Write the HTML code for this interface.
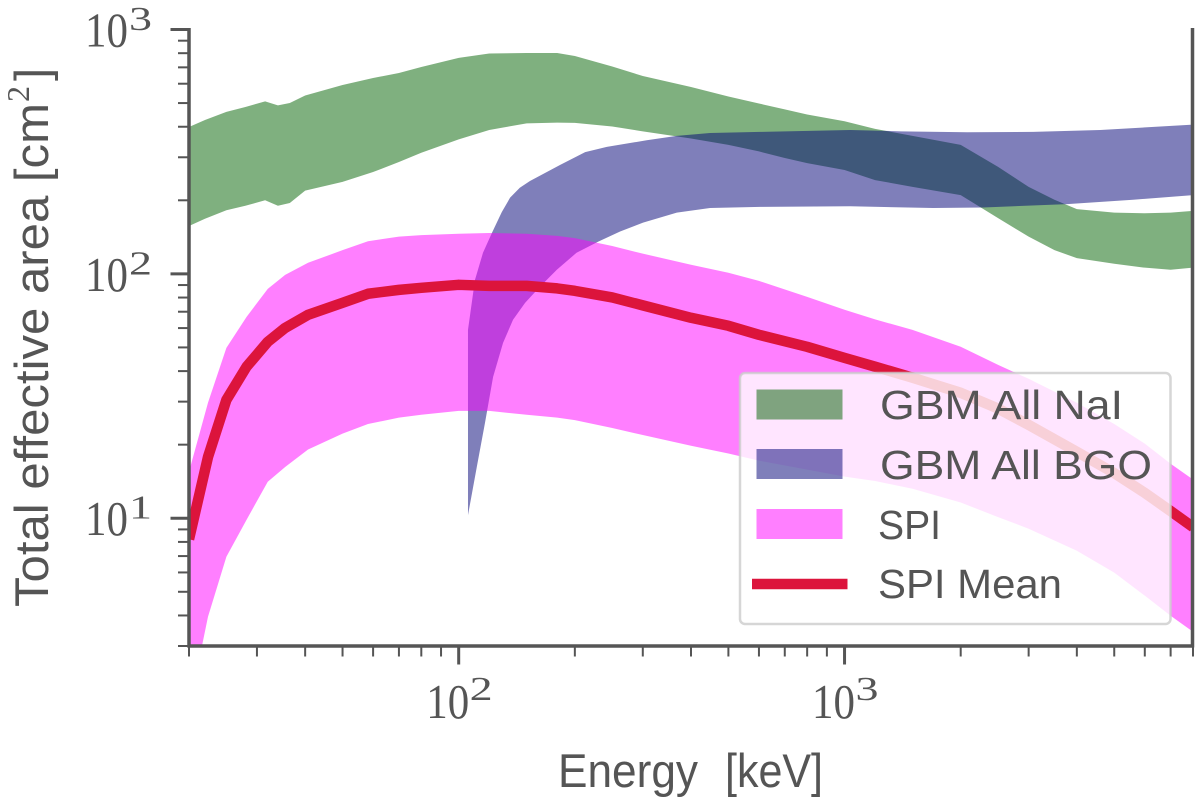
<!DOCTYPE html>
<html lang="en">
<head>
<meta charset="utf-8">
<title>Total effective area vs energy</title>
<style>
  html, body { margin: 0; padding: 0; background: #fff; }
  #chart { display: block; width: 1200px; height: 805px; }
  text { fill: #555; font-family: "Liberation Sans", sans-serif; }
  .serif { font-family: "Liberation Serif", serif; }
</style>
</head>
<body>
<svg id="chart" xmlns="http://www.w3.org/2000/svg" width="1200" height="805" viewBox="0 0 1200 805">
  <defs>
    <clipPath id="plot-clip"><rect x="189" y="29.5" width="1004" height="616.5"></rect></clipPath>
  </defs>
  <g id="series" clip-path="url(#plot-clip)"></g>
  <g id="axes"></g>

  <g id="legend">
    <rect x="740" y="373" width="430.5" height="251" rx="5" ry="5" fill="#fff" fill-opacity="0.8" stroke="#ccc" stroke-opacity="0.8" stroke-width="2.5"></rect>
    <rect x="756.5" y="389.5" width="86" height="30" fill="#006200" fill-opacity="0.5"></rect>
    <text x="880" y="419" font-size="41" textLength="243" lengthAdjust="spacingAndGlyphs">GBM All NaI</text>
    <rect x="756.5" y="449" width="86" height="30" fill="#000075" fill-opacity="0.5"></rect>
    <text x="880" y="479" font-size="41" textLength="272" lengthAdjust="spacingAndGlyphs">GBM All BGO</text>
    <rect x="756.5" y="509" width="86" height="30" fill="#ff00ff" fill-opacity="0.5"></rect>
    <text x="878" y="539" font-size="41" textLength="63" lengthAdjust="spacingAndGlyphs">SPI</text>
    <line x1="752" x2="847.5" y1="584" y2="584" stroke="#dc143c" stroke-width="10.5"></line>
    <text x="878" y="598" font-size="41" textLength="184" lengthAdjust="spacingAndGlyphs">SPI Mean</text>
  </g>

  <g>
    <text transform="translate(48,607) rotate(-90)" font-size="47" textLength="504" lengthAdjust="spacingAndGlyphs">Total effective area [cm</text>
    <text transform="translate(29,102) rotate(-90)" font-size="32" class="serif">2</text>
    <text transform="translate(48,81) rotate(-90)" font-size="47">]</text>
  </g>
  <g>
    <text x="558" y="787" font-size="47" textLength="140" lengthAdjust="spacingAndGlyphs">Energy</text>
    <text x="725" y="787" font-size="47" textLength="98" lengthAdjust="spacingAndGlyphs">[keV]</text>
  </g>
</svg>

<script>
// ---- Chart data (energy in keV, effective area in cm^2) ----
const naiEnergy = [20,22,25,28,31.5,34,36.5,40,50,60,70,80,100,120,150,180,200,250,300,400,500,600,700,800,1000,1200,1500,2000,2500,3000,3500,4000,5000,6000,7000,8000];
const naiUpper = [399,426,460,482,508,489,500,537,593,633,664,702,765,798,801,801,779,706,645,582,532,498,471,449,421,392,367,337,274,227,201,184,178,177,178,181];
const naiLower = [157,168,182,190,200,190,195,219,238,261,287,313,355,388,413,416,415,401,383,358,337,317,298,284,266,242,227,210,169,142,125,116,110,106,104,106];

const bgoUpperEnergy = [105.7,110.2,115.6,121.9,129.3,135.9,144,153,183,212.7,242,307,367.5,448,604,1034,1400,2080,3080,4600,8000];
const bgoUpper = [59,94.5,122,147,179,205,225,240,279,315,331,352,367,377,381,388,383,380,381,388,408];
const bgoLowerEnergy = [105.7,111.4,117,122.8,130.3,138.3,148.6,162.5,179.6,202,230,262,300.5,367.5,448,604,1034,1696,2287,3775,5596,8000];
const bgoLower = [10.3,16.2,24.6,37.9,52.2,64.9,76.1,88.7,104,122,135.5,149,162,178,186,188,189,186,187,193,201,210];

const spiEnergy = [20,22.4,25,28.2,32,35.5,40.7,50,58.2,70,80,100,120,150,180,200,250,300,400,500,600,800,1000,1200,1500,2000,2500,3000,4000,5000,6000,7000,8000];
const spiUpper = [15.5,29.7,49.8,66.7,86.8,99.1,111,125,136,142,144,146,147,146,143,140,130,121,109,101,93.6,80.5,71.3,65.1,59,50.3,42.4,37.2,29.7,24.3,20.2,16.7,14.4];
const spiLower = [1.66,3.95,6.96,9.86,14.1,16.2,19.1,22.2,24.3,25.8,26.5,27.5,27.5,26.5,25.8,25.2,23.4,21.9,19.8,18.4,17.2,15.8,14.8,14.2,13.2,11.6,10.1,9.06,7.36,5.99,4.82,3.99,3.43];
const spiMean = [8.2,17.8,30.5,41.7,52.7,60.1,68,76.1,82.9,86,87.7,90.2,89.3,89.3,87.2,85.2,80.1,74.3,66.1,61.3,56.3,50.3,45.3,41.7,37.6,32.6,28.1,24.1,18.7,15.3,12.7,10.7,9.2];

const xMajorTicks = [100,1000];
const xMinorTicks = [20,30,40,50,60,70,80,90,200,300,400,500,600,700,800,900,2000,3000,4000,5000,6000,7000,8000];
const yMajorTicks = [10,100,1000];
const yMinorTicks = [3,4,5,6,7,8,9,20,30,40,50,60,70,80,90,200,300,400,500,600,700,800,900];
const xTickExponents = [2,3];
const yTickExponents = [1,2,3];

// ---- Axis functions ----
const SVG_NS = 'http://www.w3.org/2000/svg';
const plotLeft = 189, plotRight = 1193, plotTop = 29.5, plotBottom = 646;
const xMin = 20, xMax = 8000, yMin = 3, yMax = 1000;
function xScale(v) {
  return plotLeft + (plotRight - plotLeft) * Math.log10(v / xMin) / Math.log10(xMax / xMin);
}
function yScale(v) {
  return plotBottom - (plotBottom - plotTop) * Math.log10(v / yMin) / Math.log10(yMax / yMin);
}
function tracePoints(xs, ys) {
  return xs.map(function (x, i) { return xScale(x).toFixed(2) + ' ' + yScale(ys[i]).toFixed(2); });
}
function bandPath(upperX, upperY, lowerX, lowerY) {
  const top = tracePoints(upperX, upperY);
  const bottom = tracePoints(lowerX, lowerY).reverse();
  return 'M' + top.concat(bottom).join('L') + 'Z';
}
function make(tag, attrs) {
  const el = document.createElementNS(SVG_NS, tag);
  Object.keys(attrs).forEach(function (k) { el.setAttribute(k, attrs[k]); });
  return el;
}

const seriesLayer = document.getElementById('series');
const axesLayer = document.getElementById('axes');

// ---- Series ----
const naiBand = make('path', { d: bandPath(naiEnergy, naiUpper, naiEnergy, naiLower), fill: '#006200', 'fill-opacity': 0.5 });


seriesLayer.appendChild(naiBand);

const bgoBand = make('path', { d: bandPath(bgoUpperEnergy, bgoUpper, bgoLowerEnergy, bgoLower), fill: '#000075', 'fill-opacity': 0.5 });


seriesLayer.appendChild(bgoBand);

const spiBand = make('path', { d: bandPath(spiEnergy, spiUpper, spiEnergy, spiLower), fill: '#ff00ff', 'fill-opacity': 0.5 });


seriesLayer.appendChild(spiBand);

const meanLine = make('path', { d: 'M' + tracePoints(spiEnergy, spiMean).join('L'), fill: 'none', stroke: '#dc143c', 'stroke-width': 10.5, 'stroke-linejoin': 'round' });


seriesLayer.appendChild(meanLine);

// ---- Spines ----
const leftSpine = make('line', { x1: plotLeft, x2: plotLeft, y1: plotTop - 1.5, y2: plotBottom + 1.5, stroke: '#555', 'stroke-width': 3.5 });


axesLayer.appendChild(leftSpine);

const rightSpine = make('line', { x1: plotRight - 0.5, x2: plotRight - 0.5, y1: plotTop - 1.5, y2: plotBottom + 1.5, stroke: '#555', 'stroke-width': 3.5 });


axesLayer.appendChild(rightSpine);

const bottomSpine = make('line', { x1: plotLeft - 1.5, x2: plotRight + 1, y1: plotBottom, y2: plotBottom, stroke: '#555', 'stroke-width': 3.5 });


axesLayer.appendChild(bottomSpine);

// ---- Ticks ----
xMinorTicks.forEach(function (v) {
  const tick = make('line', { x1: xScale(v), x2: xScale(v), y1: plotBottom, y2: plotBottom + 10.5, stroke: '#555', 'stroke-width': 2 });
  
  
  axesLayer.appendChild(tick);
});
xMajorTicks.forEach(function (v, i) {
  const tick = make('line', { x1: xScale(v), x2: xScale(v), y1: plotBottom, y2: plotBottom + 18.5, stroke: '#555', 'stroke-width': 3 });
  
  
  axesLayer.appendChild(tick);

  const base = make('text', { x: xScale(v) - 32.5, y: plotBottom + 72, 'font-size': 49, textLength: 43, lengthAdjust: 'spacingAndGlyphs', class: 'serif' });
  base.textContent = '10';
  
  
  axesLayer.appendChild(base);

  const sup = make('text', { x: xScale(v) + 11, y: plotBottom + 54, 'font-size': 34, textLength: 23, lengthAdjust: 'spacingAndGlyphs', class: 'serif' });
  sup.textContent = String(xTickExponents[i]);
  
  
  axesLayer.appendChild(sup);
});
yMinorTicks.forEach(function (v) {
  const tick = make('line', { x1: plotLeft - 11, x2: plotLeft, y1: yScale(v), y2: yScale(v), stroke: '#555', 'stroke-width': 2 });
  
  
  axesLayer.appendChild(tick);
});
yMajorTicks.forEach(function (v, i) {
  const tick = make('line', { x1: plotLeft - 18.5, x2: plotLeft, y1: yScale(v), y2: yScale(v), stroke: '#555', 'stroke-width': 3 });
  
  
  axesLayer.appendChild(tick);

  const base = make('text', { x: 85, y: yScale(v) + 17, 'font-size': 49, textLength: 43, lengthAdjust: 'spacingAndGlyphs', class: 'serif' });
  base.textContent = '10';
  
  
  axesLayer.appendChild(base);

  const sup = make('text', { x: 129, y: yScale(v) + 0.5, 'font-size': 34, textLength: 23, lengthAdjust: 'spacingAndGlyphs', class: 'serif' });
  sup.textContent = String(yTickExponents[i]);
  
  
  axesLayer.appendChild(sup);
});
</script>
</body>
</html>
